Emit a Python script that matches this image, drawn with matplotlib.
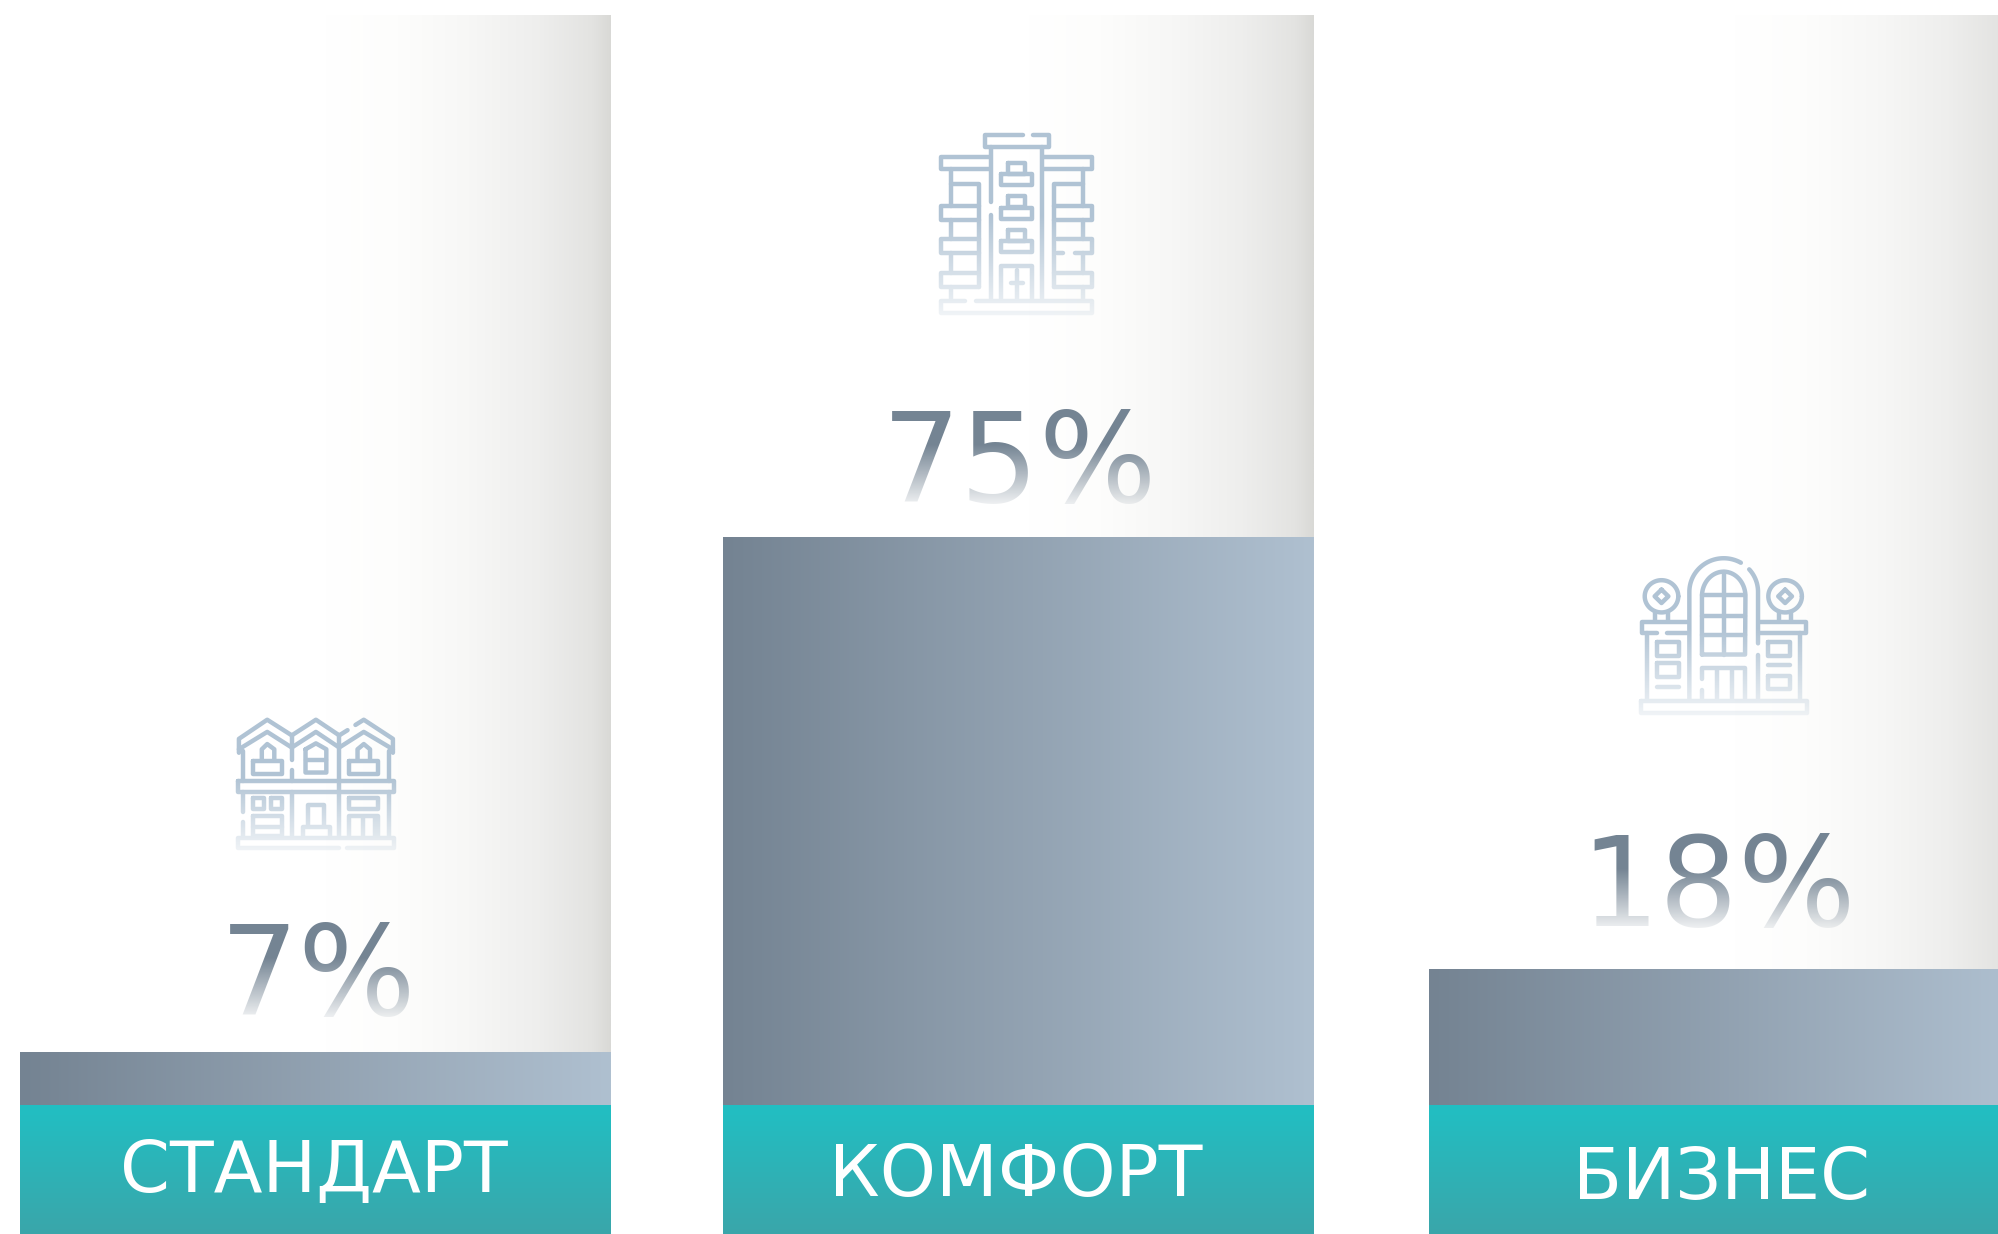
import matplotlib
matplotlib.use("Agg")
import matplotlib.pyplot as plt
import numpy as np
from matplotlib.colors import to_rgba

# --- DATA ---
categories = ["СТАНДАРТ", "КОМФОРТ", "БИЗНЕС"]
shares = [7, 75, 18]
share_labels = ["7%", "75%", "18%"]

# --- LAYOUT (pixels) ---
W, H = 1999, 1234
BAR_X = [315.5, 1019, 1724.5]
BAR_W = 591
BASE_Y = 1105
TOP_Y = 15
PX_PER_PCT = 7.57
NUM_GAP = [37, 35, 43]
NUM_X = [318, 1020, 1718]
LABEL_X = [314, 1016, 1722]
LABEL_Y = [1192, 1196, 1199]
ICON_BOX = [(236, 395, 718, 850), (939, 1095, 133, 315), (1639, 1808, 556, 715)]

SLATE = "#748493"
ICON_COL = "#b0c3d4"

col_stops = [(0, "#ffffff"), (0.52, "#ffffff"), (0.64, "#fdfdfc"), (0.76, "#f7f7f6"),
             (0.88, "#eeeeed"), (0.97, "#e3e3e1"), (1, "#d9d9d6")]
teal_stops = [(0, "#21bfc3"), (1, "#3aa6aa")]
bar_stops = [(0, "#748392"), (1, "#afc0d0")]


def ramp(stops, n=512):
    pos = [s[0] for s in stops]
    rgba = np.array([to_rgba(s[1]) for s in stops])
    t = np.linspace(0, 1, n)
    return np.stack([np.interp(t, pos, rgba[:, i]) for i in range(4)], axis=1)


def gradient(ax, x0, x1, y0, y1, stops, horizontal=True, clip=None, zorder=1):
    arr = ramp(stops)
    arr = arr[None, :, :] if horizontal else arr[:, None, :]
    # extent works for both axes, the top one just has y running the other way
    im = ax.imshow(arr, extent=(x0, x1, y1, y0), origin="upper", aspect="auto",
                   interpolation="bilinear", zorder=zorder)
    if clip is not None:
        im.set_clip_path(clip)
    return im


def fade(ax, col_x0, y0, y1, start=0.38, end_alpha=0.9):
    # veil in the colour of the column behind it, so only the marks under it fade
    arr = np.repeat(ramp(col_stops)[None, :, :], 256, axis=0)
    t = np.linspace(0, 1, 256)
    arr[:, :, 3] = np.interp(t, [0, start, 1], [0, 0, end_alpha])[:, None]
    ax.imshow(arr, extent=(col_x0, col_x0 + BAR_W, y1, y0), origin="upper", aspect="auto",
              interpolation="bilinear", zorder=6)


def rect(x0, y0, x1, y1):
    return [(x0, y0), (x1, y0), (x1, y1), (x0, y1), (x0, y0)]


def ellipse(cx, cy, rx, ry, a0=0, a1=360):
    a = np.radians(np.linspace(a0, a1, 60))
    return list(zip(cx + rx * np.cos(a), cy + ry * np.sin(a)))


# icon outlines, in the coordinates of the zoomed crops
def townhouse():
    s = [
        [(565, 205), (565, 165), (633, 110), (692, 155), (750, 110), (806, 155), (826, 140)],
        [(845, 125), (865, 110), (935, 165), (935, 205)],
        [(565, 195), (633, 145), (692, 190), (750, 145), (806, 190), (865, 145), (935, 195)],
        [(575, 200), (575, 285)], [(692, 155), (692, 225)], [(692, 255), (692, 285)],
        [(806, 155), (806, 445)], [(925, 200), (925, 285)],
        [(620, 228), (620, 195), (633, 180), (650, 195), (650, 228)], rect(600, 230, 668, 265),
        [(725, 195), (750, 178), (775, 195), (775, 262), (725, 262), (725, 195)],
        [(725, 225), (775, 225)],
        [(850, 228), (850, 195), (865, 180), (880, 195), (880, 228)], rect(830, 230, 900, 265),
        rect(563, 285, 937, 318), [(692, 318), (692, 445)],
        [(575, 318), (575, 375)], [(575, 405), (575, 445)], [(925, 318), (925, 445)],
        rect(600, 335, 625, 368), rect(642, 335, 668, 368), rect(830, 335, 900, 368),
        rect(600, 388, 668, 445), [(600, 420), (668, 420)],
        [(732, 415), (732, 355), (770, 355), (770, 415)],
        [(718, 445), (718, 420), (785, 420), (785, 445)],
        [(830, 445), (830, 388), (900, 388), (900, 445)], [(862, 392), (862, 445)], [(892, 392), (892, 445)],
        [(805, 478), (563, 478), (563, 450), (937, 450), (937, 478), (825, 478)],
    ]
    return s, (558, 940, 105, 485)


def tower():
    s = [
        [(550, 105), (437, 105), (437, 140), (627, 140), (627, 105), (580, 105)],
        [(453, 140), (453, 305)], [(453, 345), (453, 600)], [(607, 140), (607, 600)],
        [(447, 170), (305, 170), (305, 205), (447, 205)],
        [(613, 170), (757, 170), (757, 205), (613, 205)],
        [(335, 205), (335, 318)], [(335, 252), (418, 252), (418, 560)],
        [(418, 318), (305, 318), (305, 358), (418, 358)],
        [(418, 418), (305, 418), (305, 458), (418, 458)],
        [(418, 520), (305, 520), (305, 560), (418, 560)],
        [(335, 358), (335, 418)], [(335, 458), (335, 520)], [(335, 560), (335, 600)],
        [(728, 252), (642, 252), (642, 560)],
        [(642, 318), (757, 318), (757, 358), (642, 358)],
        [(650, 418), (757, 418), (757, 458), (705, 458)], [(670, 458), (650, 458)],
        [(642, 520), (757, 520), (757, 560), (642, 560)],
        [(728, 205), (728, 318)], [(728, 358), (728, 418)], [(728, 458), (728, 520)], [(728, 560), (728, 600)],
        rect(505, 187, 555, 220), rect(485, 222, 577, 255),
        rect(505, 287, 555, 320), rect(485, 322, 577, 355),
        rect(505, 389, 555, 422), rect(485, 424, 577, 457),
        [(485, 600), (485, 497), (577, 497), (577, 600)],
        [(531, 510), (531, 600)], [(515, 550), (548, 550)],
        [(375, 603), (305, 603), (305, 638), (757, 638), (757, 603), (410, 603)],
    ]
    return s, (298, 765, 98, 645)


def mansion():
    s = [
        [(757, 395), (757, 155)] + ellipse(847, 155, 90, 75, 180, 300),
        ellipse(847, 155, 90, 75, 318, 360) + [(937, 270)], [(937, 295), (937, 395)],
        [(790, 295), (790, 165)] + ellipse(847, 165, 57, 55, 180, 360) + [(903, 295), (790, 295)],
        [(848, 110), (848, 295)], [(790, 162), (903, 162)], [(790, 208), (903, 208)], [(790, 252), (903, 252)],
        ellipse(684, 165, 44, 36), ellipse(1008, 165, 44, 36),
        [(684, 150), (702, 165), (684, 180), (666, 165), (684, 150)],
        [(1008, 150), (1026, 165), (1008, 180), (990, 165), (1008, 150)],
        [(668, 200), (668, 220)], [(700, 200), (700, 220)], [(992, 200), (992, 220)], [(1024, 200), (1024, 220)],
        [(750, 222), (632, 222), (632, 248), (672, 248)], [(698, 248), (750, 248)],
        [(943, 222), (1062, 222), (1062, 248), (943, 248)],
        [(645, 248), (645, 395)], [(1048, 248), (1048, 395)],
        rect(672, 268, 730, 298), rect(672, 315, 730, 345), [(672, 368), (730, 368)],
        rect(962, 268, 1022, 298), [(962, 318), (1022, 318)], rect(962, 342, 1022, 372),
        [(790, 350), (790, 325), (903, 325), (903, 395)], [(790, 375), (790, 395)],
        [(830, 330), (830, 395)], [(868, 330), (868, 395)],
        rect(630, 398, 1065, 425),
    ]
    return s, (625, 1068, 75, 430)


def draw_icon(ax, icon, box, col_x0):
    strokes, (zx0, zx1, zy0, zy1) = icon
    x0, x1, y0, y1 = box
    for st in strokes:
        p = np.array(st, dtype=float)
        px = x0 + (p[:, 0] - zx0) / (zx1 - zx0) * (x1 - x0)
        py = y0 + (p[:, 1] - zy0) / (zy1 - zy0) * (y1 - y0)
        ax.plot(px, py, color=ICON_COL, lw=3.2, solid_capstyle="round",
                solid_joinstyle="round", zorder=4)
    fade(ax, col_x0, y0 - 4, y1 + 4, start=0.45, end_alpha=0.85)


plt.rcParams["font.family"] = ["DejaVu Sans"]
fig = plt.figure(figsize=(W / 100, H / 100), dpi=100, facecolor="white")

# pixel axes under everything: column backgrounds, teal bands, text, icons
bg = fig.add_axes([0, 0, 1, 1], zorder=0)
# data axes for the bars: 0% sits on the teal band
ax = fig.add_axes([0, 0, 1, 1], zorder=1)
ax.patch.set_alpha(0)

icons = [townhouse(), tower(), mansion()]
num_px = 124

for i, (cat, val, lab) in enumerate(zip(categories, shares, share_labels)):
    x0 = BAR_X[i] - BAR_W / 2
    x1 = BAR_X[i] + BAR_W / 2
    gradient(bg, x0, x1, TOP_Y, BASE_Y, col_stops)
    gradient(bg, x0, x1, BASE_Y, H, teal_stops, horizontal=False)
    bg.text(LABEL_X[i], LABEL_Y[i], cat, color="white", fontsize=51.5, ha="center",
            va="baseline", zorder=5)

    bar_top = BASE_Y - val * PX_PER_PCT
    base = bar_top - NUM_GAP[i]
    bg.text(NUM_X[i], base, lab, color=SLATE, fontsize=num_px * 0.72, ha="center",
            va="baseline", zorder=4)
    fade(bg, x0, base - 95, base + 3)
    draw_icon(bg, icons[i], ICON_BOX[i], x0)

bg.set_xlim(0, W)
bg.set_ylim(H, 0)
bg.axis("off")

bars = ax.bar(BAR_X, shares, width=BAR_W, color="none", linewidth=0)
for b in bars:
    gradient(ax, b.get_x(), b.get_x() + b.get_width(), b.get_height(), 0, bar_stops,
             clip=b, zorder=2)

ax.set_xlim(0, W)
ax.set_ylim(-(H - BASE_Y) / PX_PER_PCT, BASE_Y / PX_PER_PCT)
ax.axis("off")

fig.savefig("out.png", dpi=100)
